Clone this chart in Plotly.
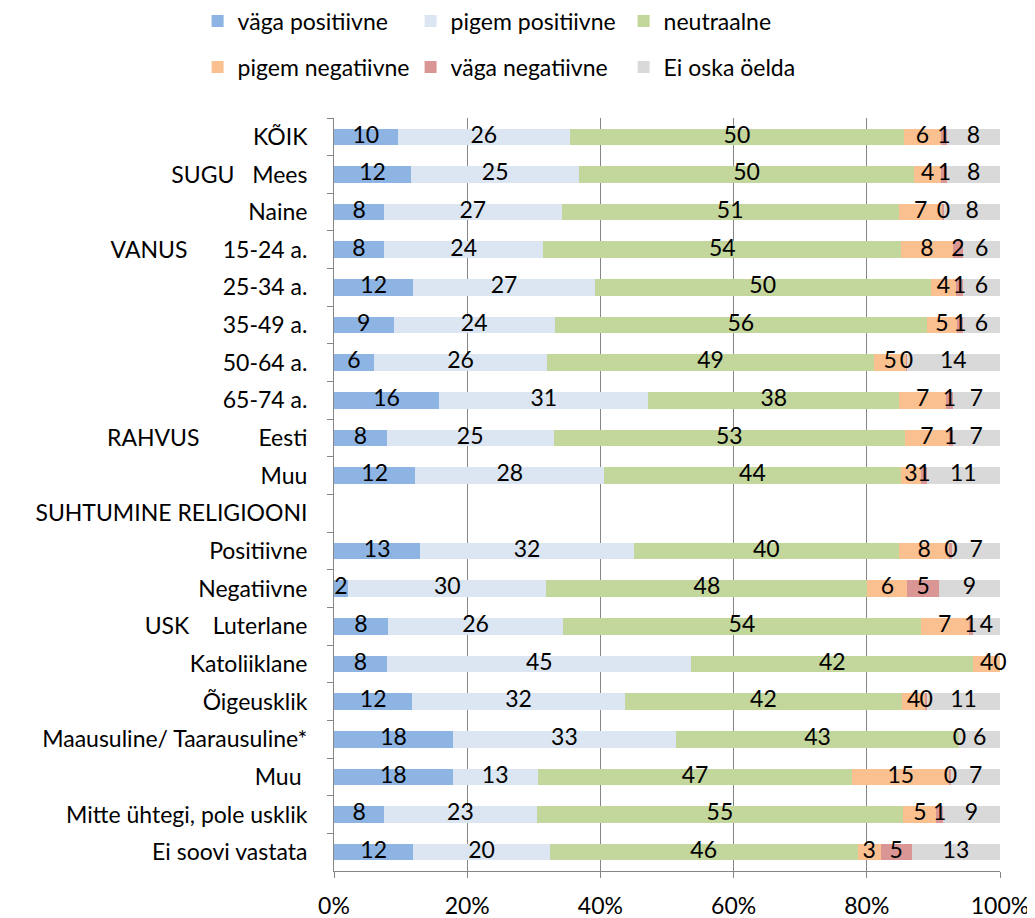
import plotly.graph_objects as go

NB = "\u00a0"
categories = [
    "KÕIK",
    "SUGU" + NB * 3 + "Mees",
    "Naine",
    "VANUS" + NB * 6 + "15-24 a.",
    "25-34 a.",
    "35-49 a.",
    "50-64 a.",
    "65-74 a.",
    "RAHVUS" + NB * 10 + "Eesti",
    "Muu",
    "SUHTUMINE RELIGIOONI",
    "Positiivne",
    "Negatiivne",
    "USK" + NB * 4 + "Luterlane",
    "Katoliiklane",
    "Õigeusklik",
    "Maausuline/ Taarausuline*",
    "Muu ",
    "Mitte ühtegi, pole usklik",
    "Ei soovi vastata",
]

series_names = ["väga positiivne", "pigem positiivne", "neutraalne",
                "pigem negatiivne", "väga negatiivne", "Ei oska öelda"]

vaga_positiivne = [9.6, 11.6, 7.6, 7.6, 11.9, 9.0, 6.0, 15.8, 8.0, 12.2, None,
                   13.0, 2.1, 8.1, 7.9, 11.9, 17.9, 17.8, 7.6, 11.9]
pigem_positiivne = [26.0, 25.2, 26.8, 24.2, 27.2, 24.4, 26.0, 31.4, 25.3, 28.3, None,
                    32.1, 29.8, 26.3, 45.4, 32.3, 33.4, 12.8, 23.0, 20.4]
neutraalne = [50.4, 50.3, 51.0, 54.4, 50.4, 56.2, 49.1, 37.7, 53.3, 44.4, None,
              39.9, 48.2, 53.7, 42.0, 42.1, 42.6, 47.2, 55.4, 46.2]
pigem_negatiivne = [5.6, 4.1, 6.6, 7.8, 3.8, 4.6, 4.8, 7.0, 6.6, 3.1, None,
                    7.6, 6.0, 7.2, 4.0, 3.6, 0.0, 14.6, 5.0, 3.4]
vaga_negatiivne = [0.9, 0.9, 0.3, 1.6, 1.0, 0.9, 0.1, 1.0, 0.6, 0.8, None,
                   0.4, 4.7, 0.6, 0.0, 0.2, None, 0.3, 1.0, 4.7]
ei_oska = [8.0, 7.9, 8.4, 5.6, 5.6, 5.6, 14.0, 7.1, 7.2, 11.0, None,
           7.2, 9.2, 4.1, None, 11.1, 6.1, 7.3, 8.6, 13.2]

series_values = [vaga_positiivne, pigem_positiivne, neutraalne,
                 pigem_negatiivne, vaga_negatiivne, ei_oska]
colors = ["#8EB4E3", "#DCE6F2", "#C3D69B", "#FAC090", "#D99694", "#D9D9D9"]

FONT = "Lato"
FS = 23
W, H = 1027, 910  # page body adds an 8px offset

fig = go.Figure()

# bars
for i, (name, vals, col) in enumerate(zip(series_names, series_values, colors)):
    fig.add_trace(go.Bar(
        y=categories, x=vals, name=name, orientation="h",
        marker=dict(color=col, line=dict(width=0)),
        legend="legend" if i < 3 else "legend2",
        hoverinfo="skip",
    ))

# data labels at segment centres (normalised like the 100% stacked bars)
n = len(categories)
totals = [sum((s[j] or 0) for s in series_values) for j in range(n)]
cum = [0.0] * n
for vals in series_values:
    xs, ys, ts = [], [], []
    for j in range(n):
        v = vals[j]
        if v is None or totals[j] == 0:
            continue
        w = v / totals[j] * 100
        xs.append(cum[j] + w / 2)
        ys.append(categories[j])
        ts.append(str(round(v)))
        cum[j] += w
    fig.add_trace(go.Scatter(
        x=xs, y=ys, text=ts, mode="text", textposition="middle center",
        textfont=dict(family=FONT, size=FS, color="black"),
        showlegend=False, hoverinfo="skip", cliponaxis=False,
    ))

legend_common = dict(orientation="h", xref="container", yref="container",
                     xanchor="left", yanchor="middle",
                     entrywidth=168, entrywidthmode="pixels",
                     font=dict(family=FONT, size=FS), traceorder="normal",
                     itemclick=False, itemdoubleclick=False,
                     bgcolor="rgba(0,0,0,0)")

fig.update_layout(
    width=W, height=H,
    barmode="stack", barnorm="percent", bargap=0.56,
    paper_bgcolor="white", plot_bgcolor="white",
    font=dict(family=FONT, size=FS, color="black"),
    margin=dict(l=326, r=35, t=110, b=47, autoexpand=False),
    legend=dict(x=189.6 / W, y=1 - 13 / H, **legend_common),
    legend2=dict(x=189.6 / W, y=1 - 59 / H, **legend_common),
)

fig.update_xaxes(
    range=[0, 100], tickvals=[0, 20, 40, 60, 80, 100],
    ticktext=["0%", "20%", "40%", "60%", "80%", "100%"],
    showgrid=True, gridcolor="#868686", gridwidth=1,
    showline=True, linecolor="#868686", linewidth=1,
    ticks="outside", ticklen=6, tickcolor="#868686",
    zeroline=False, fixedrange=True, automargin=False,
    ticklabelstandoff=8,
    tickfont=dict(family=FONT, size=FS),
)
fig.update_yaxes(
    type="category", categoryorder="array", categoryarray=categories,
    range=[n - 0.5, -0.5], tickson="boundaries",
    showline=True, linecolor="#868686", linewidth=1,
    ticks="outside", ticklen=6, tickcolor="#868686",
    showgrid=False, zeroline=False, fixedrange=True, automargin=False,
    ticklabelstandoff=21,
    tickfont=dict(family=FONT, size=FS),
)

fig.write_html("out.html")
